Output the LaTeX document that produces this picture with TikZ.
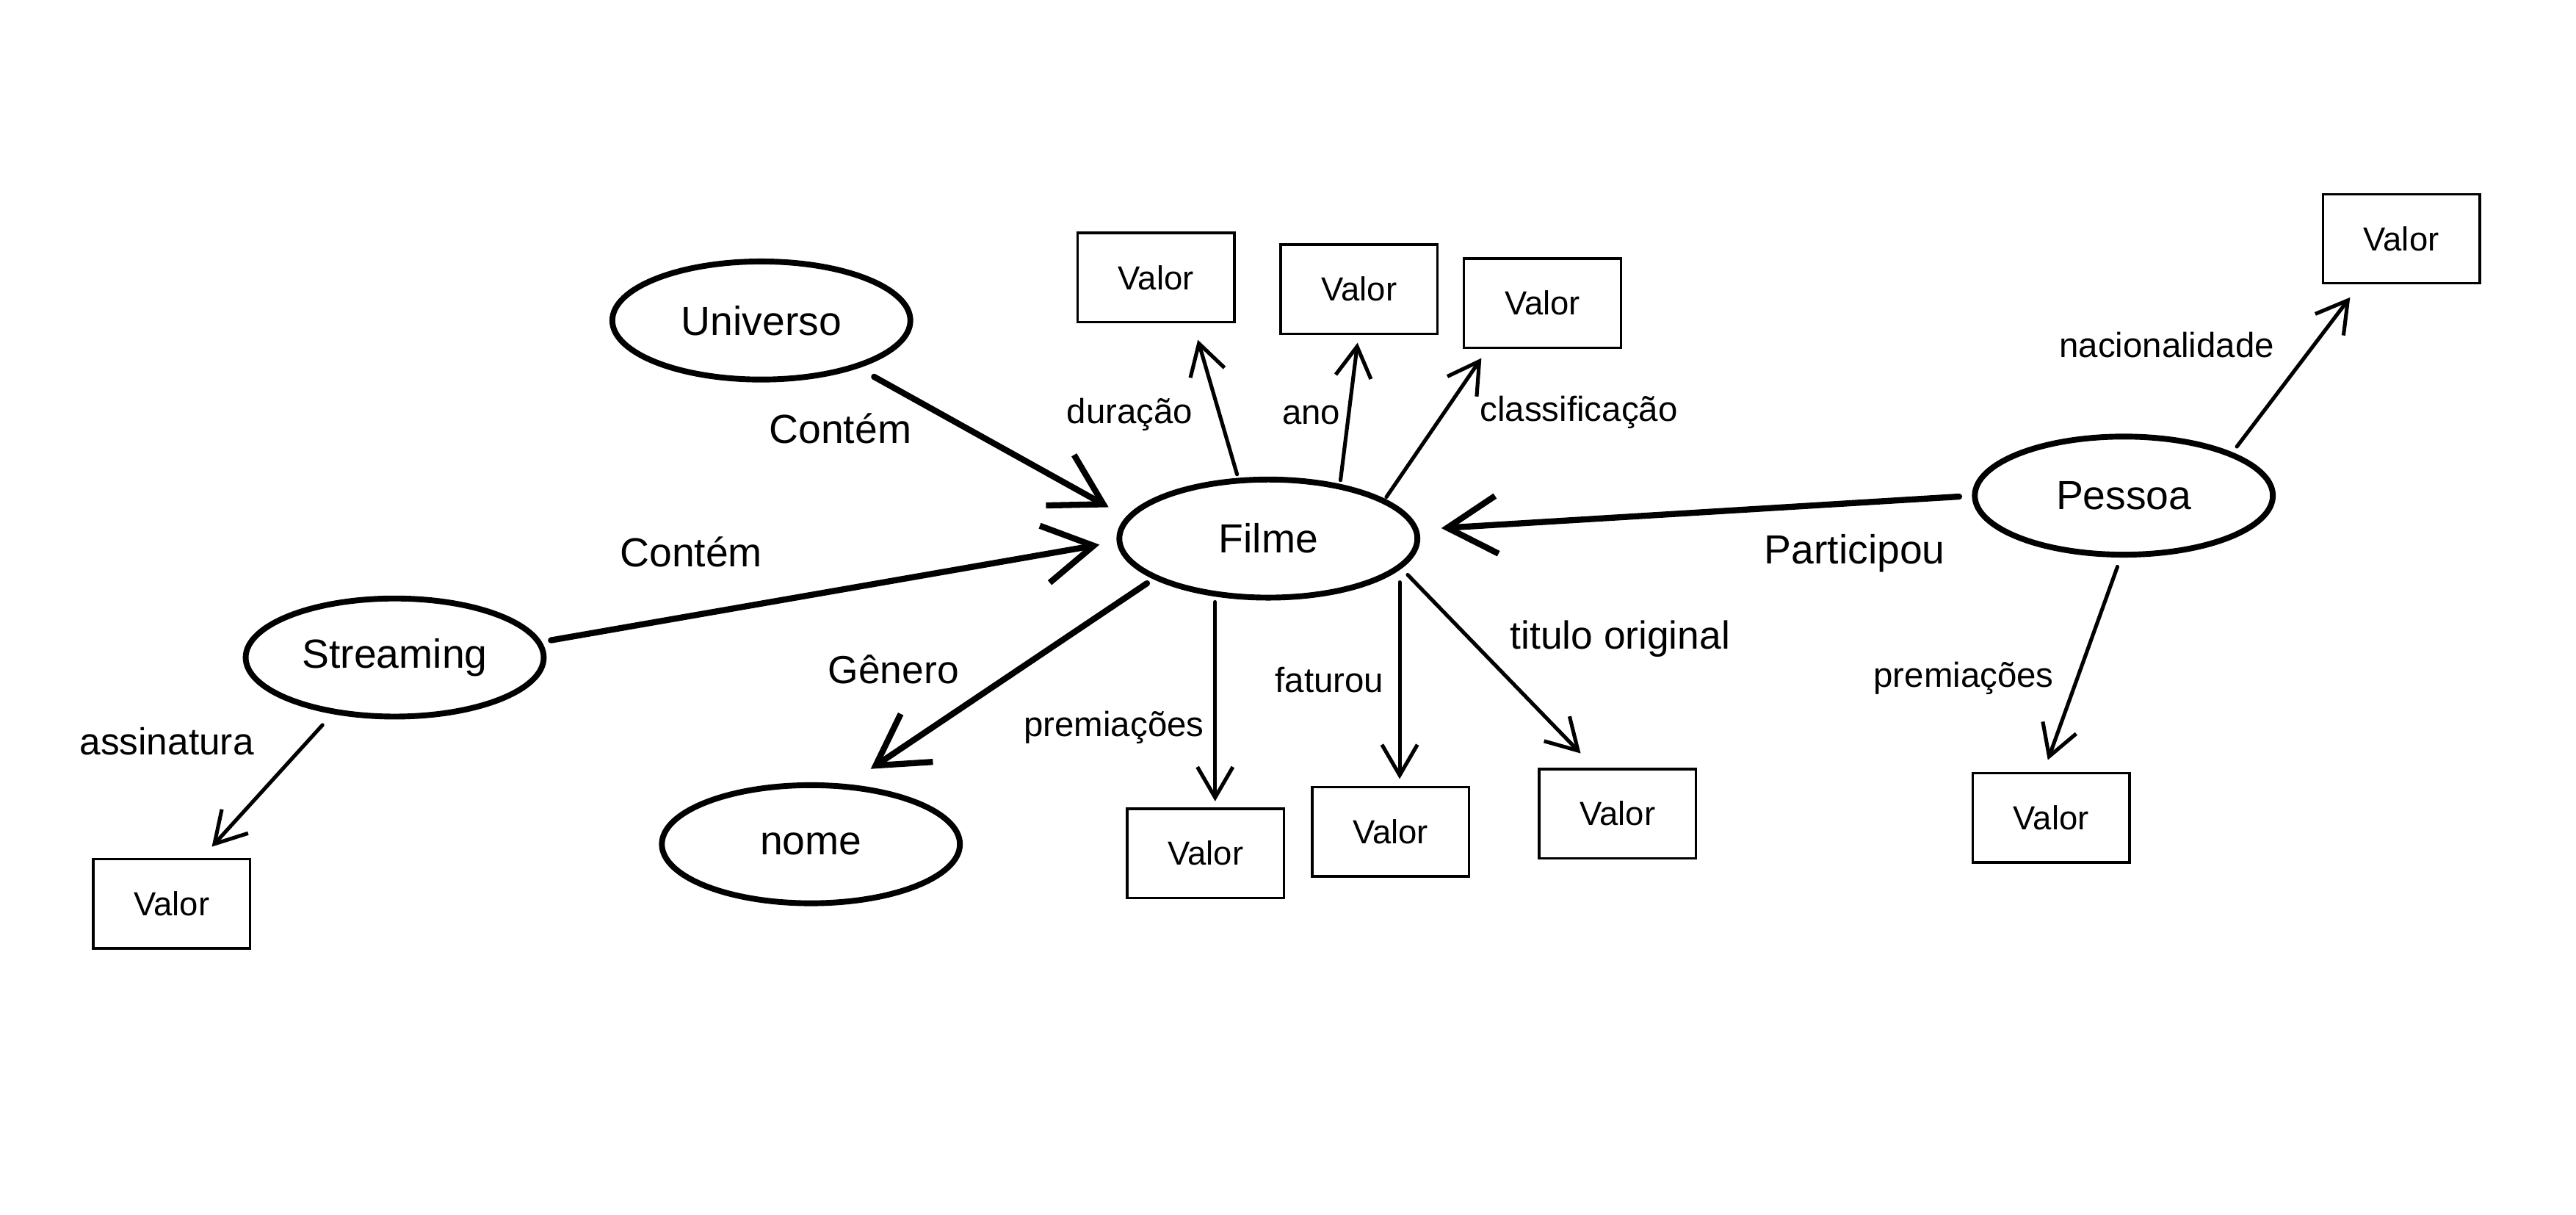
\documentclass[tikz,border=0pt]{standalone}
\usepackage{fontspec}
\setmainfont{Liberation Sans}
\usetikzlibrary{arrows.meta,shapes.geometric,calc}

\begin{document}
\begin{tikzpicture}[x=0.02cm,y=-0.02cm,
    entidade/.style={draw,ellipse,line width=2pt,inner sep=0pt,outer sep=0pt,minimum width=3.61cm,minimum height=1.43cm,font=\fontsize{14}{16}\selectfont},
    valor/.style={draw,rectangle,line width=0.85pt,inner sep=0pt,outer sep=0pt,minimum width=1.9cm,minimum height=1.08cm,font=\fontsize{11.5}{13}\selectfont},
    rel/.style={line width=2.1pt,line cap=round,-{Straight Barb[length=0.6cm,width=0.7cm]}},
    atr/.style={line width=1.3pt,line cap=round,-{Straight Barb[length=0.37cm,width=0.43cm]}},
    grande/.style={font=\fontsize{14}{16}\selectfont,inner sep=0pt},
    pequeno/.style={font=\fontsize{12}{14}\selectfont,inner sep=0pt}]
    \useasboundingbox (0,0) rectangle (1559.8,735.4);
    \node[entidade] (universo) at (461,194) {Universo};
    \node[entidade] (filme) at (768,326) {Filme};
    \node[entidade] (streaming) at (239,398) {Streaming};
    \node[entidade] (nome) at (491,511) {nome};
    \node[entidade] (pessoa) at (1286,300) {Pessoa};
    \node[valor] (duracao) at (700,168) {Valor};
    \node[valor] (ano) at (823,175) {Valor};
    \node[valor] (classif) at (934,183.5) {Valor};
    \node[valor] (nacional) at (1454,144.5) {Valor};
    \node[valor] (premiosP) at (1242,495) {Valor};
    \node[valor] (assinatura) at (104,547) {Valor};
    \node[valor] (premiosF) at (730,516.5) {Valor};
    \node[valor] (faturou) at (842,503.5) {Valor};
    \node[valor] (titulo) at (979.5,492.5) {Valor};
    \node[grande] (contemU) at (508.8,259.2) {Contém};
    \node[grande] (contemS) at (418.5,334.2) {Contém};
    \node[grande,font=\fontsize{13.5}{15}\selectfont] (genero) at (541,405) {Gênero};
    \node[grande] (participou) at (1123,335) {Participou};
    \node[grande,font=\fontsize{13.5}{15}\selectfont] (ltitulo) at (981,386.5) {titulo original};
    \node[pequeno] (lduracao) at (684,251) {duração};
    \node[pequeno] (lano) at (794,251) {ano};
    \node[pequeno] (lclassif) at (956,249.5) {classificação};
    \node[pequeno] (lfaturou) at (805,411.5) {faturou};
    \node[pequeno] (lpremiosF) at (674.5,440.5) {premiações};
    \node[pequeno] (lnacional) at (1312,208.6) {nacionalidade};
    \node[pequeno] (lpremiosP) at (1189,410.4) {premiações};
    \node[pequeno,font=\fontsize{13}{15}\selectfont] (lassinatura) at (101,448.5) {assinatura};
    \draw[rel,shorten <=0.26cm] (universo.-26) -- ($(filme.west)+(-6.5,-19)$);
    \draw[rel,shorten <=0.15cm] (streaming.6) -- ($(filme.west)+(-12,3.7)$);
    \draw[rel,shorten <=0.13cm] (filme.199.6) -- ($(nome.north)+(36.2,-9.85)$);
    \draw[rel,shorten <=0.19cm] (pessoa.west) -- ($(filme.east)+(14.5,-6.3)$);
    \draw[atr,shorten <=0.08cm] (filme.117) -- ($(duracao.south)+(25.3,10.7)$);
    \draw[atr,shorten <=0.08cm] (filme.36) -- ($(ano.south)+(-1,5.5)$);
    \draw[atr,shorten <=0.06cm] (filme.18) -- ($(classif.south)+(-37,6.3)$);
    \draw[atr,shorten <=0.1cm,shorten >=0.09cm] (filme.-134) -- (filme.-134 |- premiosF.north);
    \draw[atr,shorten <=0.19cm,shorten >=0.1cm] (filme.-12) -- (filme.-12 |- faturou.north);
    \draw[atr,shorten <=0.14cm] (filme.-12) -- ($(titulo.north)+(-22.4,-9.5)$);
    \draw[atr,shorten <=0.12cm] (pessoa.21) -- ($(nacional.south)+(-31,8.5)$);
    \draw[atr,shorten <=0.155cm] (pessoa.-92) -- ($(premiosP.north)+(-2,-8)$);
    \draw[atr,shorten <=0.22cm] (streaming.-138) -- ($(assinatura.north)+(24.3,-7.5)$);
\end{tikzpicture}
\end{document}
